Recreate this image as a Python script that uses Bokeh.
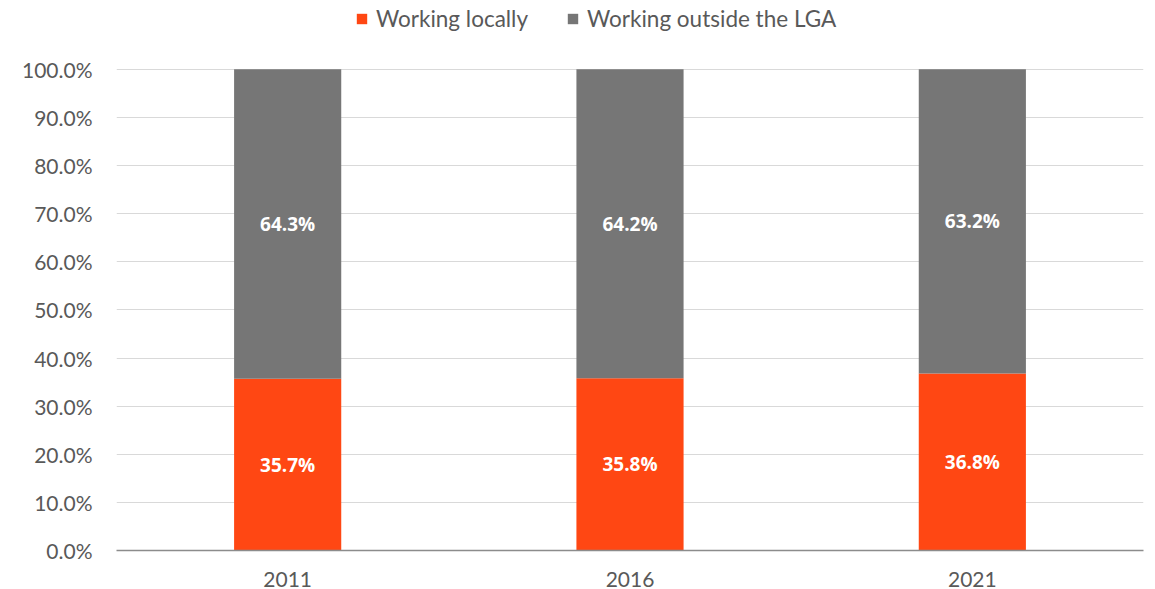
from bokeh.plotting import figure
from bokeh.models import (ColumnDataSource, FactorRange, Range1d, FixedTicker,
                          NumeralTickFormatter, LabelSet, Legend, LegendItem)
from bokeh.core.properties import value
from bokeh.embed import file_html
from bokeh.resources import INLINE

years = ["2011", "2016", "2021"]
local = [0.357, 0.358, 0.368]
outside = [0.643, 0.642, 0.632]
local_labels = ["35.7%", "35.8%", "36.8%"]
outside_labels = ["64.3%", "64.2%", "63.2%"]
series_names = ["Working locally", "Working outside the LGA"]

FONT = "Lato"
BOLD_FONT = "Open Sans"
ORANGE = "#FF4713"
GREY = "#767676"
TEXT = "#595959"

src = ColumnDataSource(dict(
    year=years,
    local=local,
    outside=outside,
    local_mid=[l / 2 for l in local],
    outside_mid=[l + o / 2 for l, o in zip(local, outside)],
    local_lab=local_labels,
    outside_lab=outside_labels,
))

# frame spans the top of the page so the legend can sit above the 100% line
p = figure(x_range=FactorRange(*years), y_range=Range1d(0, 551 / 482),
           width=1147, height=589, output_backend="svg", toolbar_location=None,
           min_border_left=116, min_border_right=4, min_border_top=0,
           min_border_bottom=38)

r = p.vbar_stack(["local", "outside"], x="year", width=0.313, source=src,
                 color=[ORANGE, GREY], line_color=None)

for ycol, tcol in (("local_mid", "local_lab"), ("outside_mid", "outside_lab")):
    p.add_layout(LabelSet(x="year", y=ycol, text=tcol, source=src,
                          text_align="center", text_baseline="middle",
                          text_color="white", text_font=value(BOLD_FONT),
                          text_font_style="bold", text_font_size="19px"))

p.outline_line_color = None
p.xgrid.grid_line_color = None
p.ygrid.grid_line_color = "#D9D9D9"
p.ygrid.grid_line_width = 1

p.yaxis.ticker = FixedTicker(ticks=[i / 10 for i in range(11)])
p.yaxis.formatter = NumeralTickFormatter(format="0.0%")
p.yaxis.axis_line_color = None
p.yaxis.major_tick_line_color = None
p.yaxis.minor_tick_line_color = None
p.yaxis.major_label_standoff = 18
p.yaxis.major_label_text_font = FONT
p.yaxis.major_label_text_font_size = "21px"
p.yaxis.major_label_text_color = TEXT

p.xaxis.axis_line_color = "#8C8C8C"
p.xaxis.axis_line_width = 1.5
p.xaxis.major_tick_line_color = None
p.xaxis.minor_tick_line_color = None
p.xaxis.major_label_standoff = 15
p.xaxis.major_label_text_font = FONT
p.xaxis.major_label_text_font_size = "21px"
p.xaxis.major_label_text_color = TEXT

legend = Legend(items=[LegendItem(label=series_names[0], renderers=[r[0]]),
                       LegendItem(label=series_names[1], renderers=[r[1]])],
                orientation="horizontal", location=(239, 518),
                glyph_width=13, glyph_height=13, label_standoff=8, spacing=38,
                padding=0, margin=0, label_height=22,
                label_text_font=FONT, label_text_font_size="22.5px",
                label_text_color=TEXT, border_line_color=None,
                background_fill_alpha=0)
p.add_layout(legend, "center")

open("out.html", "w").write(file_html(p, INLINE))
